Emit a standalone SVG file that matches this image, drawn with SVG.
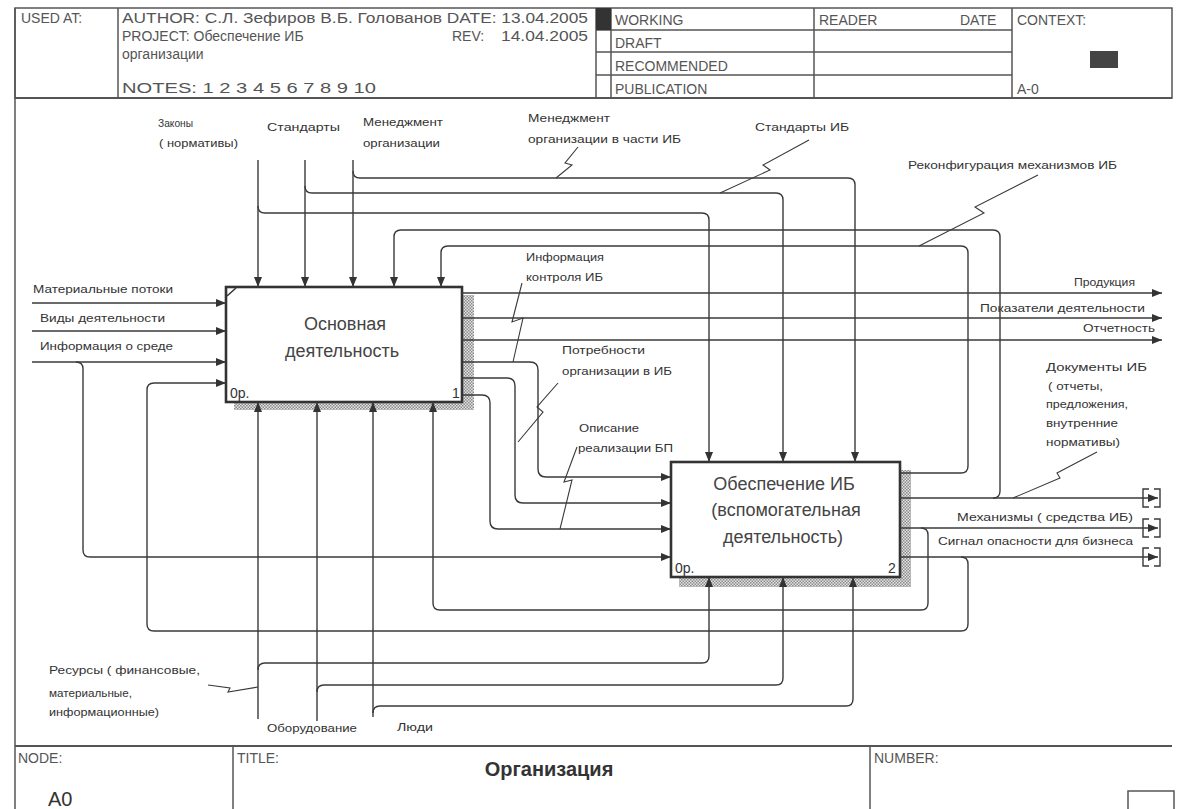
<svg xmlns="http://www.w3.org/2000/svg" width="1177" height="809" viewBox="0 0 1177 809">
<defs>
<style>
.fr{fill:none;stroke:#555;stroke-width:1.5}
.hd{font-family:"Liberation Sans",Arial,sans-serif;font-size:14px;fill:#555}
.lb{font-family:"Liberation Sans",Arial,sans-serif;font-size:11px;fill:#333}
.bx{font-family:"Liberation Sans",Arial,sans-serif;font-size:18px;fill:#444}
.sm{font-family:"Liberation Sans",Arial,sans-serif;font-size:14px;fill:#333}
.c{fill:none;stroke:#3a3a3a;stroke-width:1.4}
.ca{fill:none;stroke:#3a3a3a;stroke-width:1.4;marker-end:url(#ah)}
.sq{fill:none;stroke:#3a3a3a;stroke-width:1.1}
.box{fill:#fff;stroke:#333;stroke-width:2.6}
</style>
<marker id="ah" markerWidth="10" markerHeight="8" refX="10" refY="4" orient="auto" markerUnits="userSpaceOnUse">
<path d="M0,0 L10,4 L0,8 z" fill="#333"/>
</marker>
<pattern id="hatch" width="3" height="3" patternUnits="userSpaceOnUse">
<rect width="3" height="3" fill="#e4e4e4"/>
<rect width="1.5" height="1.5" fill="#8a8a8a"/>
<rect x="1.5" y="1.5" width="1.5" height="1.5" fill="#8a8a8a"/>
</pattern>
</defs>
<rect width="1177" height="809" fill="#fff"/>

<g id="header">
<rect class="fr" x="15" y="8" width="1157" height="90"/>
<line class="fr" x1="15" y1="98" x2="1172" y2="98" style="stroke-width:2"/>
<line class="fr" x1="15" y1="8" x2="15" y2="809"/>
<line class="fr" x1="118" y1="8" x2="118" y2="98"/>
<line class="fr" x1="596" y1="8" x2="596" y2="98"/>
<line class="fr" x1="611" y1="8" x2="611" y2="98"/>
<line class="fr" x1="814" y1="8" x2="814" y2="98"/>
<line class="fr" x1="1012" y1="8" x2="1012" y2="98"/>
<line class="fr" x1="596" y1="30" x2="1012" y2="30"/>
<line class="fr" x1="596" y1="52" x2="1012" y2="52"/>
<line class="fr" x1="596" y1="75" x2="1012" y2="75"/>
<rect x="596" y="8" width="15" height="22" fill="#333"/>
<rect x="1090" y="51" width="28" height="17" fill="#444"/>
<text class="hd" x="21" y="23">USED AT:</text>
<text class="hd" x="122" y="23" textLength="466" lengthAdjust="spacingAndGlyphs">AUTHOR:  С.Л. Зефиров В.Б. Голованов DATE:  13.04.2005</text>
<text class="hd" x="122" y="41">PROJECT:  Обеспечение ИБ</text>
<text class="hd" x="452" y="41">REV:</text>
<text class="hd" x="501" y="41" textLength="87" lengthAdjust="spacingAndGlyphs">14.04.2005</text>
<text class="hd" x="122" y="59">организации</text>
<text class="hd" x="122" y="93" textLength="254" lengthAdjust="spacingAndGlyphs">NOTES:  1  2  3  4  5  6  7  8  9  10</text>
<text class="hd" x="615" y="25">WORKING</text>
<text class="hd" x="615" y="48">DRAFT</text>
<text class="hd" x="615" y="71">RECOMMENDED</text>
<text class="hd" x="615" y="94">PUBLICATION</text>
<text class="hd" x="819" y="25">READER</text>
<text class="hd" x="960" y="25">DATE</text>
<text class="hd" x="1017" y="25">CONTEXT:</text>
<text class="hd" x="1017" y="94">A-0</text>
</g>

<g id="footer">
<line class="fr" x1="15" y1="746" x2="1172" y2="746" style="stroke-width:2"/>
<line class="fr" x1="233" y1="746" x2="233" y2="809"/>
<line class="fr" x1="870" y1="746" x2="870" y2="809"/>
<rect class="fr" x="1128" y="791" width="46" height="22"/>
<text class="hd" x="18" y="763">NODE:</text>
<text class="hd" x="237" y="763">TITLE:</text>
<text class="hd" x="874" y="763">NUMBER:</text>
<text x="48" y="806" style="font-family:'Liberation Sans',Arial,sans-serif;font-size:20px;fill:#333">A0</text>
<text x="549" y="776" text-anchor="middle" style="font-family:'Liberation Sans',Arial,sans-serif;font-size:20px;font-weight:bold;fill:#333">Организация</text>
</g>

<g id="node1">
<rect x="234" y="295" width="240" height="115" fill="url(#hatch)"/>
<rect class="box" x="226" y="287" width="236" height="115"/>
<path d="M227 296 L236 288" stroke="#333" stroke-width="1.5"/>
<text class="bx" x="345" y="330" text-anchor="middle">Основная</text>
<text class="bx" x="342" y="357" text-anchor="middle">деятельность</text>
<text class="sm" x="230" y="398">0р.</text>
<text class="sm" x="452" y="398">1</text>
</g>

<g id="node2">
<rect x="679" y="470" width="232" height="117" fill="url(#hatch)"/>
<rect class="box" x="671" y="462" width="229" height="115"/>
<text class="bx" x="784" y="490" text-anchor="middle">Обеспечение ИБ</text>
<text class="bx" x="786" y="516" text-anchor="middle">(вспомогательная</text>
<text class="bx" x="783" y="543" text-anchor="middle">деятельность)</text>
<text class="sm" x="675" y="573">0р.</text>
<text class="sm" x="888" y="573">2</text>
</g>

<g id="connectors">
<!-- controls from top -->
<path class="ca" d="M258 160 V287"/>
<path class="ca" d="M305 160 V287"/>
<path class="ca" d="M353 160 V287"/>
<path class="ca" d="M258 206 Q258 213 265 213 H702 Q709 213 709 220 V462"/>
<path class="ca" d="M305 186 Q305 193 312 193 H776 Q783 193 783 200 V462"/>
<path class="ca" d="M353 171 Q353 178 360 178 H848 Q855 178 855 185 V462"/>
<!-- feedback controls -->
<path class="ca" d="M993 498 Q1000 498 1000 491 V237 Q1000 230 993 230 H401 Q394 230 394 237 V287"/>
<path class="ca" d="M900 473 H961 Q968 473 968 466 V253 Q968 246 961 246 H448 Q441 246 441 253 V287"/>
<!-- inputs box 1 -->
<path class="ca" d="M32 303 H226"/>
<path class="ca" d="M32 331 H226"/>
<path class="ca" d="M32 362 H226"/>
<path class="ca" d="M76 362 Q83 362 83 369 V550 Q83 557 90 557 H671"/>
<path class="ca" d="M961 557 Q968 557 968 564 V624 Q968 631 961 631 H154 Q147 631 147 624 V390 Q147 383 154 383 H226"/>
<!-- outputs box 1 -->
<path class="ca" d="M462 293 H1162"/>
<path class="ca" d="M462 318 H1162"/>
<path class="ca" d="M462 340 H1162"/>
<path class="ca" d="M462 362 H530 Q538 362 538 370 V469 Q538 477 546 477 H671"/>
<path class="ca" d="M462 378 H507 Q515 378 515 386 V495 Q515 503 523 503 H671"/>
<path class="ca" d="M462 395 H482 Q490 395 490 403 V521 Q490 529 498 529 H671"/>
<!-- outputs box 2 -->
<path class="ca" d="M900 498 H1158"/>
<path class="ca" d="M900 528 H1158"/>
<path class="ca" d="M900 557 H1158"/>
<path class="ca" d="M921 528 Q928 528 928 535 V603 Q928 610 921 610 H440 Q433 610 433 603 V402"/>
<!-- mechanisms -->
<path class="ca" d="M258 719 V402"/>
<path class="ca" d="M317 721 V402"/>
<path class="ca" d="M373 717 V402"/>
<path class="ca" d="M258 670 Q258 663 265 663 H702 Q709 663 709 656 V577"/>
<path class="ca" d="M317 692 Q317 685 324 685 H776 Q783 685 783 678 V577"/>
<path class="ca" d="M373 713 Q373 706 380 706 H846 Q853 706 853 699 V577"/>
<!-- tunnel brackets -->
<path class="c" d="M1149 489 H1143 V507 H1149 M1154 489 H1160 V507 H1154"/>
<path class="c" d="M1149 519 H1143 V537 H1149 M1154 519 H1160 V537 H1154"/>
<path class="c" d="M1149 548 H1143 V566 H1149 M1154 548 H1160 V566 H1154"/>
<!-- squiggles -->
<path class="sq" d="M578 147 L565 163 L572 165 L556 178"/>
<path class="sq" d="M809 140 L763 165 L770 170 L720 193"/>
<path class="sq" d="M1038 175 L975 207 L984 213 L919 246"/>
<path class="sq" d="M522 283 L512 322 L523 318 L513 362"/>
<path class="sq" d="M558 383 L537 407 L543 412 L518 442"/>
<path class="sq" d="M577 447 L564 482 L572 480 L560 529"/>
<path class="sq" d="M1097 452 L1057 473 L1060 478 L1013 498"/>
<path class="sq" d="M208 685 L230 688 L228 692 L258 687"/>
</g>

<g id="labels">
<text class="lb" x="33" y="293" textLength="140" lengthAdjust="spacingAndGlyphs">Материальные потоки</text>
<text class="lb" x="40" y="322" textLength="125" lengthAdjust="spacingAndGlyphs">Виды деятельности</text>
<text class="lb" x="40" y="350" textLength="133" lengthAdjust="spacingAndGlyphs">Информация о среде</text>
<text class="lb" x="158" y="127" textLength="35" lengthAdjust="spacingAndGlyphs">Законы</text>
<text class="lb" x="159" y="147" textLength="79" lengthAdjust="spacingAndGlyphs">( нормативы)</text>
<text class="lb" x="267" y="131" textLength="73" lengthAdjust="spacingAndGlyphs">Стандарты</text>
<text class="lb" x="363" y="126" textLength="80" lengthAdjust="spacingAndGlyphs">Менеджмент</text>
<text class="lb" x="363" y="147" textLength="77" lengthAdjust="spacingAndGlyphs">организации</text>
<text class="lb" x="528" y="122" textLength="82" lengthAdjust="spacingAndGlyphs">Менеджмент</text>
<text class="lb" x="528" y="143" textLength="153" lengthAdjust="spacingAndGlyphs">организации в части ИБ</text>
<text class="lb" x="755" y="131" textLength="94" lengthAdjust="spacingAndGlyphs">Стандарты ИБ</text>
<text class="lb" x="908" y="169" textLength="209" lengthAdjust="spacingAndGlyphs">Реконфигурация механизмов ИБ</text>
<text class="lb" x="526" y="261" textLength="78" lengthAdjust="spacingAndGlyphs">Информация</text>
<text class="lb" x="526" y="281" textLength="77" lengthAdjust="spacingAndGlyphs">контроля ИБ</text>
<text class="lb" x="1074" y="286" textLength="61" lengthAdjust="spacingAndGlyphs">Продукция</text>
<text class="lb" x="980" y="312" textLength="165" lengthAdjust="spacingAndGlyphs">Показатели деятельности</text>
<text class="lb" x="1083" y="332" textLength="72" lengthAdjust="spacingAndGlyphs">Отчетность</text>
<text class="lb" x="562" y="354" textLength="83" lengthAdjust="spacingAndGlyphs">Потребности</text>
<text class="lb" x="562" y="375" textLength="110" lengthAdjust="spacingAndGlyphs">организации в ИБ</text>
<text class="lb" x="579" y="432" textLength="60" lengthAdjust="spacingAndGlyphs">Описание</text>
<text class="lb" x="578" y="452" textLength="95" lengthAdjust="spacingAndGlyphs">реализации БП</text>
<text class="lb" x="1046" y="371" textLength="101" lengthAdjust="spacingAndGlyphs">Документы ИБ</text>
<text class="lb" x="1048" y="390" textLength="55" lengthAdjust="spacingAndGlyphs">( отчеты,</text>
<text class="lb" x="1046" y="408" textLength="82" lengthAdjust="spacingAndGlyphs">предложения,</text>
<text class="lb" x="1046" y="427" textLength="72" lengthAdjust="spacingAndGlyphs">внутренние</text>
<text class="lb" x="1046" y="446" textLength="74" lengthAdjust="spacingAndGlyphs">нормативы)</text>
<text class="lb" x="957" y="521" textLength="176" lengthAdjust="spacingAndGlyphs">Механизмы ( средства ИБ)</text>
<text class="lb" x="938" y="545" textLength="195" lengthAdjust="spacingAndGlyphs">Сигнал опасности для бизнеса</text>
<text class="lb" x="49" y="674" textLength="151" lengthAdjust="spacingAndGlyphs">Ресурсы ( финансовые,</text>
<text class="lb" x="49" y="697" textLength="83" lengthAdjust="spacingAndGlyphs">материальные,</text>
<text class="lb" x="49" y="716" textLength="110" lengthAdjust="spacingAndGlyphs">информационные)</text>
<text class="lb" x="267" y="732" textLength="90" lengthAdjust="spacingAndGlyphs">Оборудование</text>
<text class="lb" x="397" y="731" textLength="36" lengthAdjust="spacingAndGlyphs">Люди</text>
</g>
</svg>
